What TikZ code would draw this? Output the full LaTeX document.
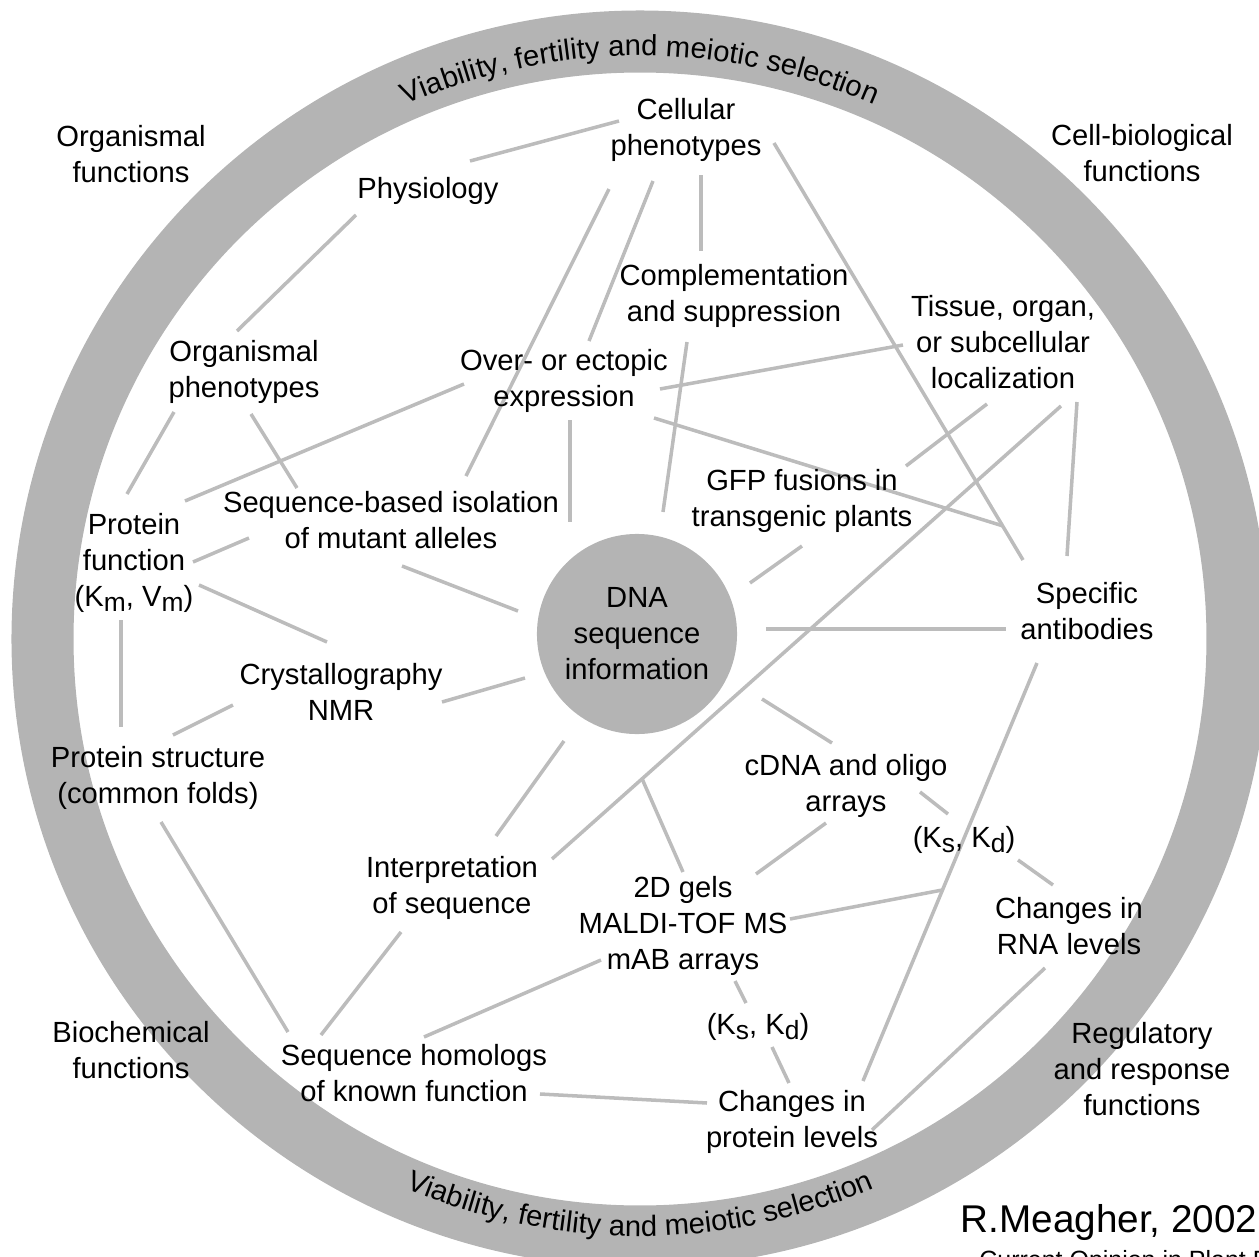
\documentclass[tikz,border=0pt]{standalone}
\usepackage{fontspec}
\setmainfont{Liberation Sans}
\usetikzlibrary{calc,decorations.text,backgrounds}

\definecolor{ringgray}{RGB}{180,180,180}
\definecolor{linkgray}{RGB}{188,188,188}
\newcommand{\lowsub}[1]{\raisebox{-1.3pt}{\fontsize{7.5}{8}\selectfont #1}}
\newcommand{\ringfont}{\fontsize{8.3}{10}\selectfont}

\begin{document}
\begin{tikzpicture}[x=0.01cm, y=-0.01cm,
        lbl/.style={align=center, inner sep=0pt, font=\fontsize{8.3}{10.24}\selectfont},
        dnadisc/.style={lbl, circle, fill=ringgray, minimum size=2cm},
        link/.style={linkgray, line width=1pt}]
        \clip (0,0) rectangle (1259,1257);

        \draw[ringgray, line width=0.62cm] (640,639) circle[radius=597.5];
        \path[decorate, decoration={text along path, text align=center,
            text={|\ringfont|Viability, fertility and meiotic selection}}]
            (640,639) ++(200:583) arc[start angle=200, end angle=340, radius=583];
        \path[decorate, decoration={text along path, text align=center,
            text={|\ringfont|Viability, fertility and meiotic selection}}]
            (640,639) ++(160:597) arc[start angle=160, end angle=20, radius=597];

        \node[lbl] (orgfun) at (131,154) {Organismal\\functions};
        \node[lbl] (cellfun) at (1142,153) {Cell-biological\\functions};
        \node[lbl] (biofun) at (131,1050) {Biochemical\\functions};
        \node[lbl] (regfun) at (1142,1069) {Regulatory\\and response\\functions};

        \node[lbl] (cellphen) at (686,130) {Cellular\\phenotypes};
        \node[lbl] (physio) at (428,191) {Physiology};
        \node[lbl] (compl) at (734,296) {Complementation\\and suppression};
        \node[lbl] (tissue) at (1003,342) {Tissue, organ,\\or subcellular\\localization};
        \node[lbl] (orgphen) at (244,372) {Organismal\\phenotypes};
        \node[lbl] (ectopic) at (564,381) {Over- or ectopic\\expression};
        \node[lbl] (protfun) at (134,563) {Protein\\function\\(K\lowsub{m}, V\lowsub{m})};
        \node[lbl] (seqiso) at (391,520) {Sequence-based isolation\\of mutant alleles};
        \node[lbl] (gfp) at (802,501) {GFP fusions in\\transgenic plants};
        \node[dnadisc] (dna) at (637,634) {DNA\\sequence\\information};
        \node[lbl] (antib) at (1087,611) {Specific\\antibodies};
        \node[lbl] (cryst) at (341,692) {Crystallography\\NMR};
        \node[lbl] (protstr) at (158,778) {Protein structure\\(common folds)};
        \node[lbl] (cdna) at (846,786) {cDNA and oligo\\arrays};
        \node[lbl] (ksrna) at (964,840) {(K\lowsub{s}, K\lowsub{d})};
        \node[lbl] (interp) at (452,888) {Interpretation\\of sequence};
        \node[lbl] (gels) at (683,926) {2D gels\\MALDI-TOF MS\\mAB arrays};
        \node[lbl] (rna) at (1069,926) {Changes in\\RNA levels};
        \node[lbl] (ksprot) at (758,1027) {(K\lowsub{s}, K\lowsub{d})};
        \node[lbl] (homol) at (414,1073) {Sequence homologs\\of known function};
        \node[lbl] (protlev) at (792,1122) {Changes in\\protein levels};

        \node[anchor=base, font=\fontsize{11}{13}\selectfont] (author) at (1109,1232) {R.Meagher, 2002};
        \node[anchor=base west, font=\fontsize{7.1}{8}\selectfont] (journal) at (967,1268) {Current Opinion in Plant Biology};

        \begin{scope}[on background layer]
        \draw[link] ($(physio)+(42,-30)$) -- ($(cellphen)+(-67,-9)$);
        \draw[link] ($(physio)+(-72,24)$) -- ($(orgphen)+(-7,-41)$);
        \draw[link] ($(cellphen)+(-77,59)$) -- ($(seqiso)+(75,-44)$);
        \draw[link] ($(cellphen)+(-33,51)$) -- ($(ectopic)+(25,-40)$);
        \draw[link] ($(cellphen)+(15,45)$) -- ($(compl)+(-33,-45)$);
        \draw[link] ($(cellphen)+(88,13)$) -- coordinate[pos=0.918] (j1) ($(antib)+(-64,-51)$);
        \draw[link] ($(orgphen)+(-70,40)$) -- ($(protfun)+(-7,-69)$);
        \draw[link] ($(orgphen)+(7,42)$) -- ($(seqiso)+(-94,-32)$);
        \draw[link] ($(ectopic)+(-100,3)$) -- ($(protfun)+(51,-62)$);
        \draw[link] ($(ectopic)+(6,39)$) -- ($(dna)+(-67,-112)$);
        \draw[link] ($(protfun)+(59,-1)$) -- ($(seqiso)+(-142,18)$);
        \draw[link] ($(seqiso)+(11,46)$) -- ($(dna)+(-119,-23)$);
        \draw[link] ($(protfun)+(65,22)$) -- ($(cryst)+(-14,-50)$);
        \draw[link] ($(compl)+(-47,46)$) -- ($(dna)+(26,-122)$);
        \draw[link] ($(ectopic)+(96,8)$) -- ($(tissue)+(-100,3)$);
        \draw[link] ($(ectopic)+(90,37)$) -- (j1);
        \draw[link] ($(tissue)+(-16,62)$) -- ($(gfp)+(104,-35)$);
        \draw[link] ($(tissue)+(74,60)$) -- ($(antib)+(-20,-55)$);
        \draw[link] ($(tissue)+(58,64)$) -- coordinate[pos=0.823] (j2) ($(interp)+(100,-29)$);
        \draw[link] (j2) -- ($(gels)+(0,-54)$);
        \draw[link] ($(gfp)+(0,45)$) -- ($(dna)+(113,-51)$);
        \draw[link] ($(dna)+(129,-5)$) -- ($(antib)+(-81,18)$);
        \draw[link] ($(dna)+(-112,44)$) -- ($(cryst)+(101,10)$);
        \draw[link] ($(dna)+(-73,107)$) -- ($(interp)+(44,-52)$);
        \draw[link] ($(dna)+(125,65)$) -- ($(cdna)+(-14,-43)$);
        \draw[link] ($(cryst)+(-108,13)$) -- ($(protstr)+(15,-43)$);
        \draw[link] ($(protfun)+(-13,57)$) -- ($(protstr)+(-37,-51)$);
        \draw[link] ($(protstr)+(3,44)$) -- ($(homol)+(-126,-41)$);
        \draw[link] ($(interp)+(-51,44)$) -- ($(homol)+(-93,-38)$);
        \draw[link] ($(gels)+(-82,34)$) -- ($(homol)+(10,-36)$);
        \draw[link] ($(homol)+(126,21)$) -- ($(protlev)+(-85,-19)$);
        \draw[link] ($(cdna)+(-20,37)$) -- ($(gels)+(73,-52)$);
        \draw[link] ($(cdna)+(74,6)$) -- ($(ksrna)+(-16,-26)$);
        \draw[link] ($(ksrna)+(54,20)$) -- ($(rna)+(-16,-41)$);
        \draw[link] ($(antib)+(-50,52)$) -- coordinate[pos=0.543] (j3) ($(protlev)+(71,-41)$);
        \draw[link] ($(gels)+(107,-7)$) -- (j3);
        \draw[link] ($(gels)+(52,55)$) -- ($(ksprot)+(-12,-24)$);
        \draw[link] ($(ksprot)+(14,20)$) -- ($(protlev)+(-3,-39)$);
        \draw[link] ($(rna)+(-24,42)$) -- ($(protlev)+(80,8)$);
        \end{scope}
    \end{tikzpicture}
\end{document}
